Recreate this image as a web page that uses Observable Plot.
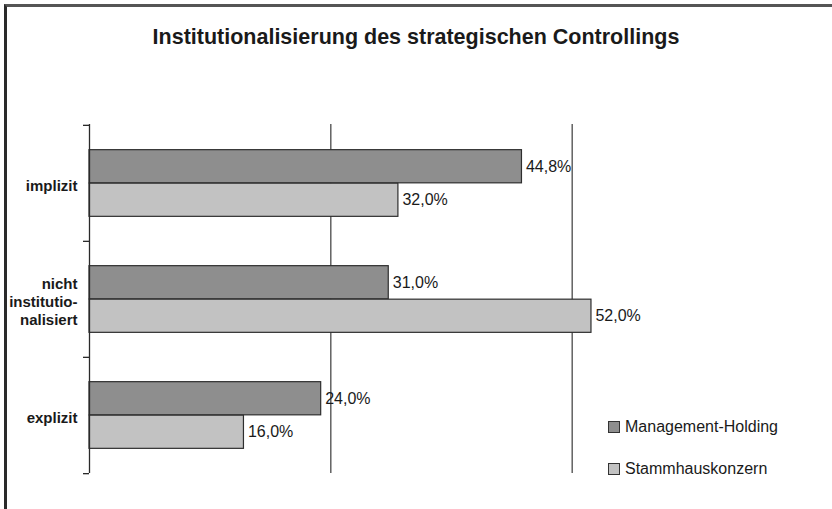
<!DOCTYPE html>
<html>
<head>
<meta charset="utf-8">
<script src="https://cdn.jsdelivr.net/npm/d3@7"></script>
<script src="https://cdn.jsdelivr.net/npm/@observablehq/plot@0.6"></script>
<style>
  html, body { margin: 0; padding: 0; background: #fff; overflow: hidden; }
  #wrap { position: relative; width: 832px; height: 509px; overflow: hidden; font-family: Arial, "Liberation Sans", sans-serif; }
  #frame { position: absolute; left: 4px; top: 4px; width: 850px; height: 530px; border-left: 3px solid #2a2a2a; border-top: 3px solid #555; box-sizing: border-box; }
  #title { position: absolute; left: 0; width: 832px; top: 24px; text-align: center; font-size: 21.5px; font-weight: bold; color: #1a1a1a; line-height: 26px; }
  #chart { position: absolute; left: 0; top: 0; }
  #legend { position: absolute; left: 608px; top: 418px; font-size: 16px; color: #1a1a1a; }
  .item { display: flex; align-items: center; height: 18px; margin-bottom: 24px; }
  .sw { width: 10px; height: 10px; border: 1px solid #333; margin-right: 5px; }
</style>
</head>
<body>
<div id="wrap">
  <div id="frame"></div>
  <div id="title">Institutionalisierung des strategischen Controllings</div>
  <div id="chart"></div>
  <div id="legend"></div>
</div>
<script>
const categories = ["implizit", "nicht\ninstitutio-\nnalisiert", "explizit"];
const seriesNames = ["Management-Holding", "Stammhauskonzern"];
const managementHolding = [44.8, 31.0, 24.0];
const stammhauskonzern = [32.0, 52.0, 16.0];
const gridValues = [25, 50];
const colors = ["#8e8e8e", "#c2c2c2"];

const mh = categories.map((c, i) => ({category: c, value: managementHolding[i]}));
const sk = categories.map((c, i) => ({category: c, value: stammhauskonzern[i]}));
const fmt = v => v.toFixed(1).replace(".", ",") + "%";

const W = 832, H = 509, mL = 89, mR = 19, mT = 124, mB = 36;
const band = (H - mT - mB) / categories.length;
const barH = 33.5;
const outer = (band - 2 * barH) / 2;

const plot = Plot.plot({
  width: W, height: H,
  marginLeft: mL, marginRight: mR, marginTop: mT, marginBottom: mB,
  style: {fontFamily: "Arial, 'Liberation Sans', sans-serif", background: "transparent"},
  x: {domain: [0, 75], axis: null},
  y: {domain: categories, padding: 0, axis: null},
  marks: [
    Plot.ruleX(gridValues, {stroke: "#3a3a3a", strokeWidth: 1.2}),
    Plot.barX(mh, {x: "value", y: "category", fill: colors[0], stroke: "#2e2e2e", strokeWidth: 1.2, insetTop: outer, insetBottom: outer + barH}),
    Plot.barX(sk, {x: "value", y: "category", fill: colors[1], stroke: "#2e2e2e", strokeWidth: 1.2, insetTop: outer + barH, insetBottom: outer}),
    Plot.text(mh, {x: "value", y: "category", text: d => fmt(d.value), dx: 4, dy: -barH / 2, textAnchor: "start", fontSize: 16, fill: "#1a1a1a"}),
    Plot.text(sk, {x: "value", y: "category", text: d => fmt(d.value), dx: 4, dy: barH / 2, textAnchor: "start", fontSize: 16, fill: "#1a1a1a"}),
    Plot.ruleX([0], {stroke: "#2a2a2a", strokeWidth: 1.3}),
    Plot.ruleY(categories, {y: d => d, x1: 0, x2: 0, insetLeft: -6, dy: -band / 2, stroke: "#2a2a2a", strokeWidth: 1.3}),
    Plot.ruleY(categories.slice(-1), {y: d => d, x1: 0, x2: 0, insetLeft: -6, dy: band / 2, stroke: "#2a2a2a", strokeWidth: 1.3}),
    Plot.text(categories, {x: 0, y: d => d, text: d => d, dx: -12, dy: 2, textAnchor: "end", fontWeight: "bold", fontSize: 15, lineHeight: 1.18, fill: "#1a1a1a"})
  ]
});
document.getElementById("chart").appendChild(plot);

const legend = document.getElementById("legend");
seriesNames.forEach((n, i) => {
  const it = document.createElement("div");
  it.className = "item";
  const sw = document.createElement("div");
  sw.className = "sw";
  sw.style.background = colors[i];
  const t = document.createElement("span");
  t.textContent = n;
  it.appendChild(sw); it.appendChild(t);
  legend.appendChild(it);
});
</script>
</body>
</html>
